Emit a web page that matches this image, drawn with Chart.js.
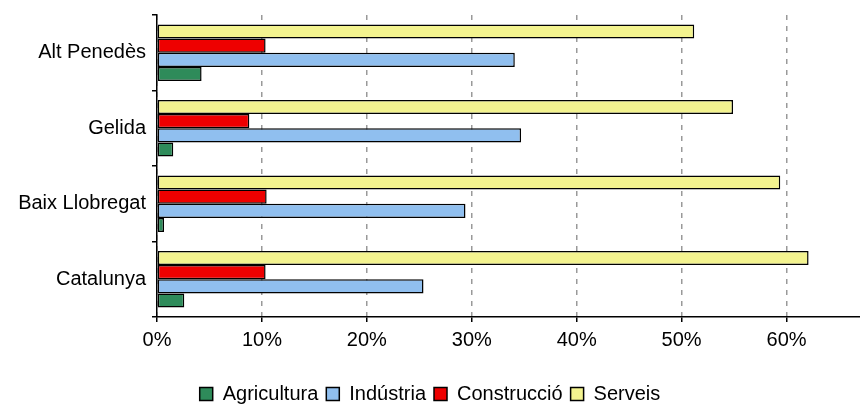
<!DOCTYPE html>
<html>
<head>
<meta charset="utf-8">
<script src="https://cdn.jsdelivr.net/npm/chart.js@4"></script>
<style>
  html, body { margin: 0; padding: 0; background: #fff; }
  #wrap { width: 860px; height: 405px; }
</style>
</head>
<body>
<div id="wrap"><canvas id="chart" width="860" height="405"></canvas></div>
<script>
const places = ['Alt Penedès', 'Gelida', 'Baix Llobregat', 'Catalunya'];

// percentages per sector, one value per place
const serveis = [51.2, 54.9, 59.4, 62.1];
const construccio = [10.35, 8.8, 10.45, 10.35];
const industria = [34.1, 34.7, 29.4, 25.4];
const agricultura = [4.25, 1.55, 0.67, 2.6];

const xTicks = [0, 10, 20, 30, 40, 50, 60];

const fontFamily = '"Liberation Sans", Arial, sans-serif';
const fontSize = 20;

const ctx = document.getElementById('chart').getContext('2d');

const barDefaults = {
  borderColor: '#000',
  borderWidth: 1.5,
  borderSkipped: false,
  barPercentage: 1,
  categoryPercentage: 0.75,
};

new Chart(ctx, {
  type: 'bar',
  data: {
    labels: places,
    datasets: [
      { label: 'Serveis', data: serveis, backgroundColor: '#F3F38F', ...barDefaults },
      { label: 'Construcció', data: construccio, backgroundColor: '#EE0000', ...barDefaults },
      { label: 'Indústria', data: industria, backgroundColor: '#90BFEF', ...barDefaults },
      { label: 'Agricultura', data: agricultura, backgroundColor: '#2E8B5A', ...barDefaults },
    ],
  },
  options: {
    indexAxis: 'y',
    responsive: false,
    animation: false,
    layout: { padding: { top: 15, left: 0, right: 0, bottom: -9 } },
    scales: {
      x: {
        min: 0,
        max: 67,
        afterBuildTicks: (axis) => {
          axis.ticks = xTicks.map((v) => ({ value: v }));
        },
        afterFit: (scale) => { scale.height = 59; },
        ticks: {
          callback: (v) => v + '%',
          color: '#000',
          font: { family: fontFamily, size: fontSize },
          padding: 6,
          maxRotation: 0,
        },
        grid: {
          color: '#999',
          lineWidth: 1.5,
          tickColor: '#000',
          tickLength: 5,
          tickBorderDash: [],
        },
        border: { color: '#000', width: 1.5, dash: [5, 6] },
      },
      y: {
        afterFit: (scale) => {
          scale.width = 157;
          scale.paddingTop = 0;
          scale.paddingBottom = 0;
        },
        ticks: {
          color: '#000',
          font: { family: fontFamily, size: fontSize },
          padding: 6,
        },
        grid: {
          offset: true,
          drawOnChartArea: false,
          color: '#000',
          lineWidth: 1.5,
          tickLength: 5,
        },
        border: { color: '#000', width: 1.5 },
      },
    },
    plugins: {
      tooltip: { enabled: false },
      legend: {
        position: 'bottom',
        reverse: true,
        labels: {
          color: '#000',
          font: { family: fontFamily, size: fontSize },
          boxWidth: 13,
          boxHeight: 13,
          padding: 8,
        },
      },
    },
  },
});
</script>
</body>
</html>
